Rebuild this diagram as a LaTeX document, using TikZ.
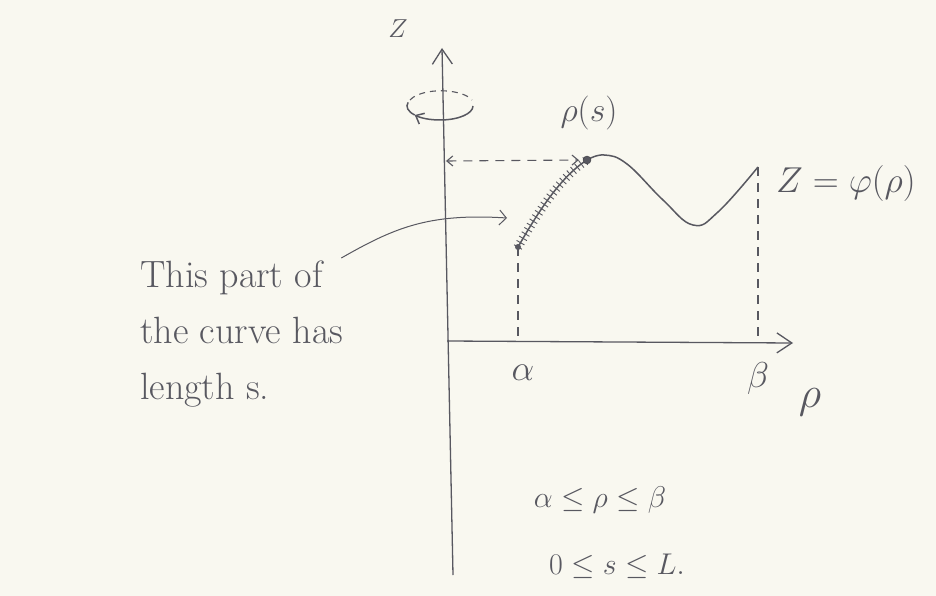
\RequirePackage{fix-cm}
\documentclass[tikz,border=0pt]{standalone}
\usepackage{xcolor}
\usepackage{amsmath}
\usepackage{tikz}
\usetikzlibrary{arrows.meta, calc, decorations.pathreplacing}
\definecolor{pencil}{RGB}{88,88,96}
\definecolor{paper}{RGB}{249,248,240}
\tikzset{
  axis/.style={-{Straight Barb[length=15pt,width=20pt]}, line width=1.3pt, draw=pencil},
  guide/.style={dash pattern=on 9pt off 7pt, line width=1.1pt, draw=pencil},
  curve/.style={line width=1.5pt, draw=pencil},
  hatch/.style={decorate, decoration={ticks, segment length=5pt, amplitude=4.5pt},
                line width=0.9pt, draw=pencil},
  pointer/.style={-{Straight Barb[length=7pt,width=15pt]}, line width=1pt, draw=pencil},
  mathlabel/.style={font=\fontsize{30}{36}\selectfont, text=pencil, inner sep=0pt},
  note/.style={font=\fontsize{38}{56}\selectfont, text=pencil, align=left, inner sep=0pt},
  dot/.style={circle, fill=pencil, inner sep=0pt, minimum size=#1},
  dot/.default=6pt,
}

\begin{document}
\begin{tikzpicture}[x=1pt, y=-1pt]
  \fill[paper] (0,0) rectangle (936,596);

  % axes
  \coordinate (zbot) at (453,575);
  \coordinate (ztop) at (442,48);
  \coordinate (rleft) at (447,341);
  \coordinate (rright) at (793,343);
  \draw[axis] (zbot) -- (ztop);
  \draw[axis] (rleft) -- (rright);

  % rotation about the z axis
  \coordinate (spin) at (440,106);
  \draw[guide, dash pattern=on 6pt off 5pt] ($(spin)+(-30,-6)$)
    arc[start angle=200, end angle=340, x radius=33, y radius=14];
  \draw[curve, -{Straight Barb[length=7pt,width=12pt]}] ($(spin)+(33,0)$)
    arc[start angle=0, end angle=140, x radius=33, y radius=14];
  \draw[curve] ($(spin)+(-25.3,9)$)
    arc[start angle=140, end angle=195, x radius=33, y radius=14];

  % the curve
  \coordinate (alphapt) at (518,247);
  \coordinate (spt) at (587,160);
  \coordinate (betapt) at (758,167);
  \draw[curve] (alphapt) .. controls (537,214) and (560,177) .. (spt);
  \draw[hatch] (alphapt) .. controls (537,214) and (560,177) .. (spt);
  \draw[curve] plot[smooth, tension=0.7] coordinates
    {(spt) (604,155) (627,164) (663,200) (693,225) (718,212) (betapt)};
  \node[dot] (alphadot) at (alphapt) {};
  \node[dot=8pt, draw=pencil!70!black] (sdot) at (spt) {};

  \draw[guide] (alphapt) -- ($(alphapt |- rleft)+(0,-4)$);
  \draw[guide] (betapt) -- ($(betapt |- rleft)+(0,-4)$);
  \coordinate (zs) at (446,161);
  \draw[guide, {Straight Barb[length=6pt,width=10pt]}-{Straight Barb[length=6pt,width=10pt]}]
    (zs) -- ($(sdot.west)+(-4,0)$);

  % labels
  \node[mathlabel, font=\fontsize{26}{30}\selectfont] (zlabel) at (398,29) {$Z$};
  \node[mathlabel, font=\fontsize{34}{40}\selectfont] (slabel) at (589,113) {$\rho(s)$};
  \node[mathlabel, font=\fontsize{36}{42}\selectfont, anchor=west] (philabel)
    at (776,184) {$Z=\varphi(\rho)$};
  \node[mathlabel, font=\fontsize{36}{42}\selectfont] (alabel) at (523,373) {$\alpha$};
  \node[mathlabel, font=\fontsize{36}{42}\selectfont] (blabel) at (758,378) {$\beta$};
  \node[mathlabel, font=\fontsize{44}{50}\selectfont] (rholabel) at (810,402) {$\rho$};
  \node[mathlabel] (range1) at (600,500) {$\alpha\le\rho\le\beta$};
  \node[mathlabel] (range2) at (617,566) {$0\le s\le L.$};

  \node[note, anchor=north west] (note) at (140,261)
    {This part of\\the curve has\\length s.};
  \coordinate (tipc) at (507,218);
  \draw[pointer] ($(note.north east)+(-2,-3)$) .. controls (394,228) and (428,213) .. (tipc);
\end{tikzpicture}
\end{document}
